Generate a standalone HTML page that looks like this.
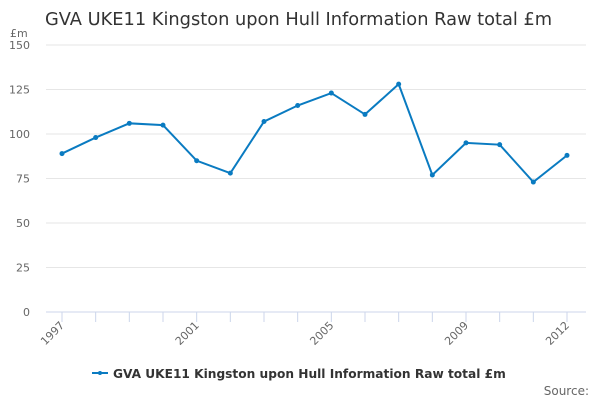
<!DOCTYPE html>
<html><head><meta charset="utf-8"><style>
body{margin:0;background:#fff;font-family:"Liberation Sans","DejaVu Sans",sans-serif}
svg text{font-family:"DejaVu Sans","Liberation Sans",sans-serif}
</style></head><body>
<svg id="c" width="600" height="400">
<text x="45" y="25" font-size="17.8" fill="#333">GVA UKE11 Kingston upon Hull Information Raw total £m</text>
<text x="10" y="37" font-size="11" fill="#666">£m</text>
<g id="grid"></g><g id="xaxis"></g><g id="series"></g>
<g>
<line x1="92" y1="373" x2="108" y2="373" stroke="#0a7bc1" stroke-width="2"/>
<circle cx="100" cy="373" r="2" fill="#0a7bc1"/>
<text x="113" y="378" font-size="12.2" font-weight="bold" fill="#333">GVA UKE11 Kingston upon Hull Information Raw total £m</text>
</g>
<text x="589" y="395" font-size="12" fill="#666" text-anchor="end">Source:</text>
</svg>
<script>
const years=[1997,1998,1999,2000,2001,2002,2003,2004,2005,2006,2007,2008,2009,2010,2011,2012];
const values=[89,98,106,105,85,78,107,116,123,111,128,77,95,94,73,88];
const yTicks=[0,25,50,75,100,125,150];
const xLabels=[1997,2001,2005,2009,2012];
const NS="http://www.w3.org/2000/svg";
const x0=62,x1=567,yTop=45,yBot=312,yMax=150;
const X=y=>x0+(y-years[0])*(x1-x0)/(years[years.length-1]-years[0]);
const Y=v=>yBot-v*(yBot-yTop)/yMax;
function mk(t,a,p){const e=document.createElementNS(NS,t);for(const k in a)e.setAttribute(k,a[k]);p.appendChild(e);return e;}
const grid=document.getElementById('grid'),xa=document.getElementById('xaxis'),s=document.getElementById('series');
yTicks.forEach(v=>{
 const l=mk('line',{x1:46,x2:586,y1:Y(v),y2:Y(v),stroke:v===0?'#ccd6eb':'#e6e6e6','stroke-width':1},grid);
 
 
 const t=mk('text',{x:30,y:Y(v)+4,'font-size':11,fill:'#666','text-anchor':'end'},grid);
 t.textContent=v;
 
 
});
years.forEach(y=>{
 const l=mk('line',{x1:X(y),x2:X(y),y1:yBot,y2:yBot+10,stroke:'#ccd6eb'},xa);
 
 
});
xLabels.forEach(y=>{
 const t=mk('text',{x:X(y)+3,y:yBot+14,'font-size':11,fill:'#666','text-anchor':'end',transform:`rotate(-45 ${X(y)+3} ${yBot+14})`},xa);
 t.textContent=y;
 
 
});
const p=mk('polyline',{points:years.map((y,i)=>X(y)+','+Y(values[i])).join(' '),fill:'none',stroke:'#0a7bc1','stroke-width':2},s);


years.forEach((y,i)=>{
 const c=mk('circle',{cx:X(y),cy:Y(values[i]),r:2.5,fill:'#0a7bc1'},s);
 
 
});
</script>
</body></html>
